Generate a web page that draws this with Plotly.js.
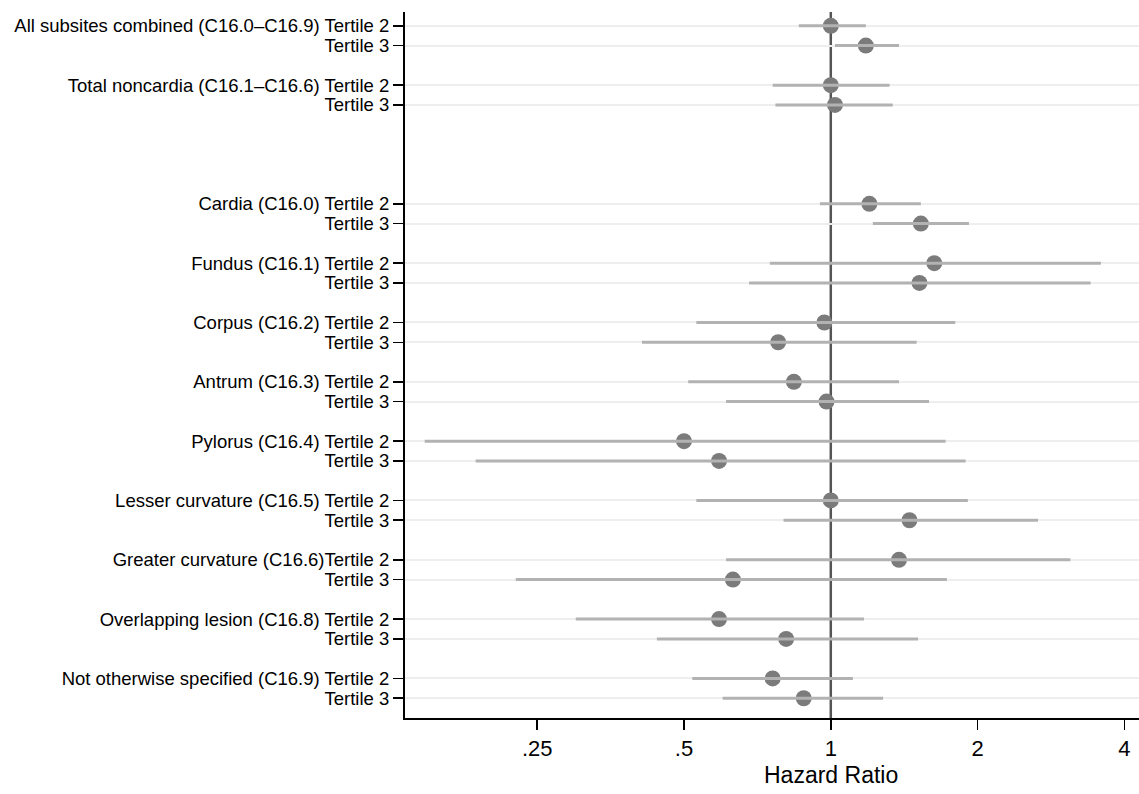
<!DOCTYPE html>
<html>
<head>
<meta charset="utf-8">
<script src="https://cdn.plot.ly/plotly-3.0.1.min.js"></script>
<style>html,body{margin:0;padding:0;background:#fff;}#chart{width:1139px;height:794px;}</style>
</head>
<body>
<div id="chart"></div>
<script>
// Row labels (top to bottom)
const rowLabels = [
  "All subsites combined (C16.0–C16.9) Tertile 2", "Tertile 3",
  "Total noncardia (C16.1–C16.6) Tertile 2", "Tertile 3",
  "Cardia (C16.0) Tertile 2", "Tertile 3",
  "Fundus (C16.1) Tertile 2", "Tertile 3",
  "Corpus (C16.2) Tertile 2", "Tertile 3",
  "Antrum (C16.3) Tertile 2", "Tertile 3",
  "Pylorus (C16.4) Tertile 2", "Tertile 3",
  "Lesser curvature (C16.5) Tertile 2", "Tertile 3",
  "Greater curvature (C16.6)Tertile 2", "Tertile 3",
  "Overlapping lesion (C16.8) Tertile 2", "Tertile 3",
  "Not otherwise specified (C16.9) Tertile 2", "Tertile 3"
];
// Hazard ratios and 95% CI bounds
const hr    = [1.00, 1.18, 1.00, 1.02, 1.20, 1.53, 1.63, 1.52, 0.97, 0.78, 0.84, 0.98, 0.50, 0.59, 1.00, 1.45, 1.38, 0.63, 0.59, 0.81, 0.76, 0.88];
const ciLow = [0.86, 1.02, 0.76, 0.77, 0.95, 1.22, 0.75, 0.68, 0.53, 0.41, 0.51, 0.61, 0.147, 0.187, 0.53, 0.80, 0.61, 0.226, 0.30, 0.44, 0.52, 0.60];
const ciHigh= [1.18, 1.38, 1.32, 1.34, 1.53, 1.92, 3.58, 3.41, 1.80, 1.50, 1.38, 1.59, 1.72, 1.89, 1.91, 2.66, 3.10, 1.73, 1.17, 1.51, 1.11, 1.28];
const xTickVals = [0.25, 0.5, 1, 2, 4];
const xTickText = [".25", ".5", "1", "2", "4"];
const xTitle = "Hazard Ratio";

// row positions: pairs separated by one blank row, extra gap after the two summary groups
const rows = [];
let pos = 0;
for (let g = 0; g < rowLabels.length / 2; g++) {
  rows.push(pos, pos + 1);
  pos += 3;
  if (g === 1) pos += 3;
}

const ciX = [], ciY = [];
for (let i = 0; i < hr.length; i++) {
  ciX.push(ciLow[i], ciHigh[i], null);
  ciY.push(rows[i], rows[i], null);
}

const font = "Liberation Sans, Arial, Helvetica, sans-serif";

const traces = [
  {type: "scatter", mode: "markers", x: hr, y: rows,
   marker: {size: 16, color: "#7b7b7b"}, hoverinfo: "x+y", showlegend: false},
  {type: "scatter", mode: "lines", x: ciX, y: ciY,
   line: {color: "#b2b2b2", width: 3}, hoverinfo: "skip", showlegend: false}
];

const layout = {
  width: 1139, height: 794,
  margin: {l: 405, r: 0, t: 12, b: 76},
  paper_bgcolor: "#fff", plot_bgcolor: "#fff",
  font: {family: font, color: "#000"},
  showlegend: false,
  xaxis: {
    type: "log", range: [-0.8731, 0.632],
    tickvals: xTickVals, ticktext: xTickText,
    ticks: "outside", ticklen: 10, tickwidth: 1.5, tickcolor: "#000",
    showline: true, linecolor: "#000", linewidth: 2,
    showgrid: false, zeroline: false,
    tickfont: {family: font, size: 22, color: "#000"}
  },
  yaxis: {
    range: [35.0, -0.7],
    tickvals: rows, ticktext: rowLabels,
    ticks: "outside", ticklen: 10, tickwidth: 1.5, tickcolor: "#000",
    showline: true, linecolor: "#000", linewidth: 2,
    showgrid: true, gridcolor: "#eeeeee", gridwidth: 2,
    zeroline: false,
    tickfont: {family: font, size: 18.5, color: "#000"}
  },
  annotations: [
    {text: xTitle, xref: "paper", yref: "paper", x: 0.5804, y: 0, yshift: -57,
     xanchor: "center", yanchor: "middle", showarrow: false,
     font: {family: font, size: 23, color: "#000"}}
  ],
  shapes: [
    {type: "line", xref: "x", yref: "paper", x0: 1, x1: 1, y0: 0, y1: 1,
     line: {color: "#555", width: 2.5}, layer: "between"}
  ]
};

Plotly.newPlot("chart", traces, layout, {displayModeBar: false, staticPlot: true});
</script>
</body>
</html>
